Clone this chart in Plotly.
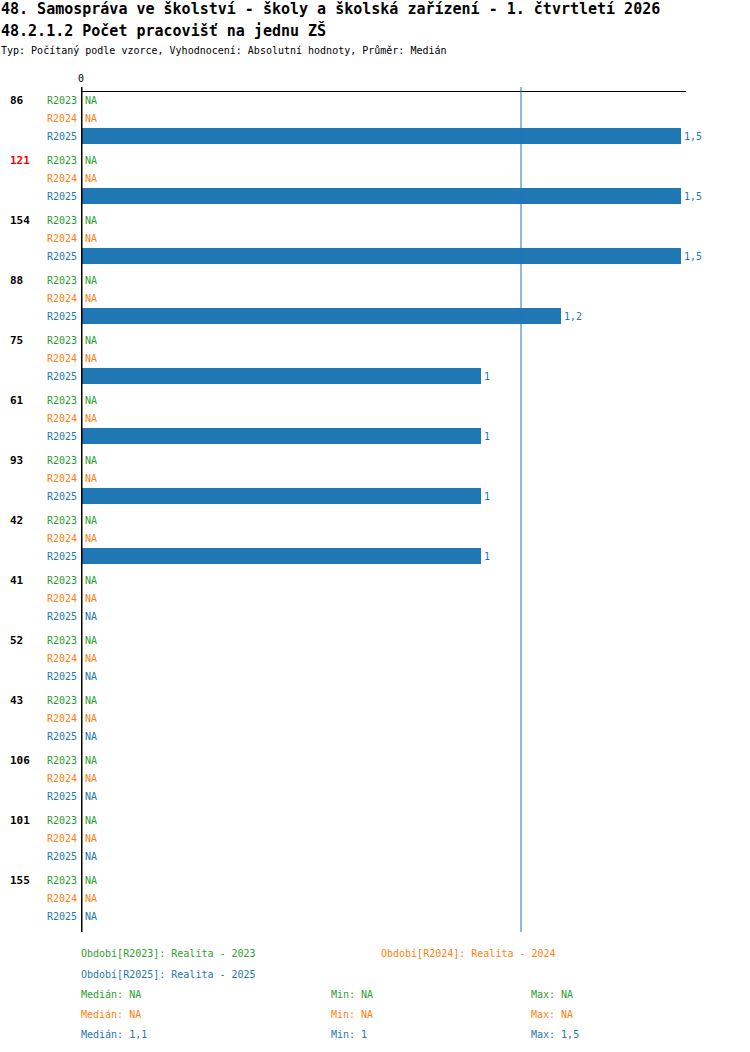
import plotly.graph_objects as go

# ---- data ----
groups = ["86", "121", "154", "88", "75", "61", "93", "42", "41", "52", "43", "106", "101", "155"]
highlight = ["121"]
series = ["R2023", "R2024", "R2025"]
r2023 = [None] * 14
r2024 = [None] * 14
r2025 = [1.5, 1.5, 1.5, 1.2, 1.0, 1.0, 1.0, 1.0, None, None, None, None, None, None]
period_labels = ["Období[R2023]: Realita - 2023", "Období[R2024]: Realita - 2024", "Období[R2025]: Realita - 2025"]
stats_median = ["NA", "NA", "1,1"]
stats_min = ["NA", "NA", "1"]
stats_max = ["NA", "NA", "1,5"]
median_value = 1.1
title1 = "48. Samospráva ve školství - školy a školská zařízení - 1. čtvrtletí 2026"
title2 = "48.2.1.2 Počet pracovišť na jednu ZŠ"
subtitle = "Typ: Počítaný podle vzorce, Vyhodnocení: Absolutní hodnoty, Průměr: Medián"

colors = ["#2ca02c", "#ff7f0e", "#1f77b4"]
FONT = "DejaVu Sans Mono"

W, H = 750, 1052
ML, MT = 81, 92
PW = 686 - 81
PH = 932 - 92
MR = W - ML - PW
MB = H - MT - PH
GROUP_STEP, ROW_STEP = 60, 18
X_MAX = 1.5 * PW / 600.0

def fmt(v):
    return ("%g" % v).replace(".", ",")

def px2paper(px, py):
    return (px - ML) / PW, (MT + PH - py) / PH

fig = go.Figure()
all_vals = [r2023, r2024, r2025]
ann = []
for si, s in enumerate(series):
    vals = all_vals[si]
    ys = [gi * GROUP_STEP + si * ROW_STEP for gi in range(len(groups))]
    fig.add_trace(go.Bar(
        x=vals, y=ys, orientation="h", width=16,
        marker=dict(color=colors[si], line=dict(width=0)),
        text=[fmt(v) if v is not None else "" for v in vals],
        textposition="outside", cliponaxis=False,
        textfont=dict(family=FONT, size=10, color=colors[si]),
        showlegend=False, hoverinfo="skip",
    ))
    for gi, v in enumerate(vals):
        y = ys[gi]
        ann.append(dict(x=0, y=y, xref="x", yref="y", text=s, xanchor="right", xshift=-2,
                        showarrow=False, font=dict(family=FONT, size=10, color=colors[si])))
        if v is None:
            ann.append(dict(x=0, y=y, xref="x", yref="y", text="NA", xanchor="left", xshift=2,
                            showarrow=False, font=dict(family=FONT, size=10, color=colors[si])))

for gi, g in enumerate(groups):
    ann.append(dict(x=0, y=gi * GROUP_STEP, xref="x", yref="y", text="<b>%s</b>" % g,
                    xanchor="left", xshift=-(ML - 8), showarrow=False,
                    font=dict(family=FONT, size=11, color="#ff0000" if g in highlight else "#000000")))

def text_at(px, py, text, size, color="#000000", bold=False):
    xp, yp = px2paper(px, py)
    ann.append(dict(x=xp, y=yp, xref="paper", yref="paper", xanchor="left", yanchor="middle",
                    text=("<b>%s</b>" % text) if bold else text, showarrow=False,
                    font=dict(family=FONT, size=size, color=color)))

text_at(-1, 9, title1, 15, bold=True)
text_at(-1, 30, title2, 15, bold=True)
text_at(-1, 51, subtitle, 10)

text_at(79, 954, period_labels[0], 10, colors[0])
text_at(379, 954, period_labels[1], 10, colors[1])
text_at(79, 974, period_labels[2], 10, colors[2])
for si in range(3):
    yy = 994 + 20 * si
    text_at(79, yy, "Medián: " + stats_median[si], 10, colors[si])
    text_at(329, yy, "Min: " + stats_min[si], 10, colors[si])
    text_at(529, yy, "Max: " + stats_max[si], 10, colors[si])

top_ext = px2paper(0, 87)[1]
shapes = [
    dict(type="line", xref="x", yref="paper", x0=median_value, x1=median_value,
         y0=0, y1=top_ext, line=dict(color="#1f77b4", width=1), layer="above"),
    dict(type="line", xref="x", yref="paper", x0=0, x1=0, y0=0, y1=top_ext,
         line=dict(color="#000000", width=3), layer="above"),
]

last_y = (len(groups) - 1) * GROUP_STEP + 2 * ROW_STEP
fig.update_layout(
    width=W, height=H, margin=dict(l=ML, r=MR, t=MT, b=MB, autoexpand=False),
    paper_bgcolor="white", plot_bgcolor="white",
    barmode="overlay", bargap=0,
    xaxis=dict(range=[0, X_MAX], side="top", tickvals=[0], ticktext=["0"], ticks="outside",
               ticklen=5, tickcolor="rgba(0,0,0,0)",
               showgrid=False, zeroline=False,
               showline=True, linecolor="#000000", linewidth=1,
               tickfont=dict(family=FONT, size=10, color="#000000")),
    yaxis=dict(range=[last_y + 16, -8], showticklabels=False, showgrid=False, zeroline=False,
               showline=False, ticks=""),
    annotations=ann, shapes=shapes,
    font=dict(family=FONT),
)
fig.write_html("out.html", config={"displayModeBar": False, "staticPlot": True},
               post_script="document.body.style.margin='0';document.body.style.overflow='hidden';")
